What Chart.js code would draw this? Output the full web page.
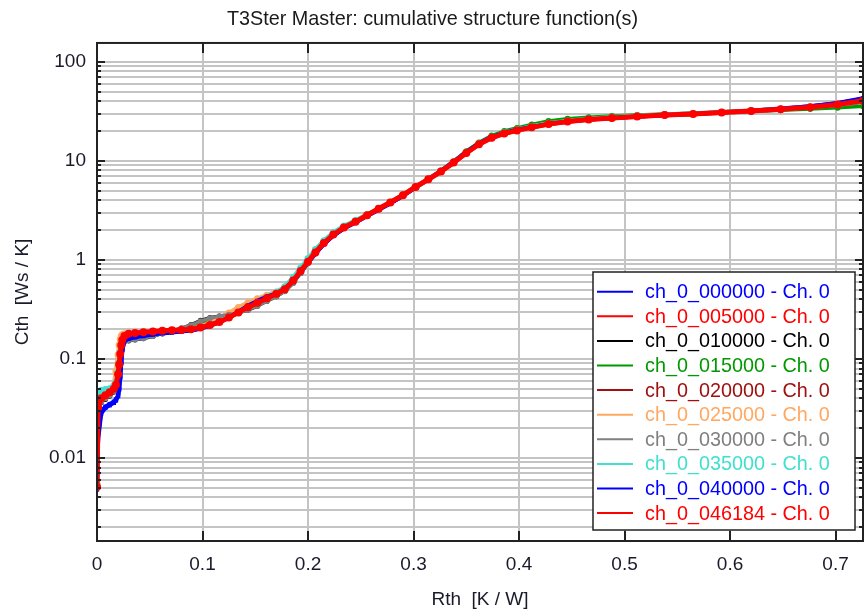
<!DOCTYPE html>
<html>
<head>
<meta charset="utf-8">
<script src="https://cdn.jsdelivr.net/npm/chart.js@4.4.1/dist/chart.umd.min.js"></script>
<style>
  html, body { margin: 0; padding: 0; background: #ffffff; }
  #wrap { width: 867px; height: 609px; }
</style>
</head>
<body>
<div id="wrap"><canvas id="c" width="867" height="609"></canvas></div>
<script>
// ---------- DATA ----------
const chartTitle = 'T3Ster Master: cumulative structure function(s)';
const xTitle = 'Rth  [K / W]';
const yTitle = 'Cth  [Ws / K]';

const xTickValues = [0, 0.1, 0.2, 0.3, 0.4, 0.5, 0.6, 0.7];
const xTickLabels = ['0', '0.1', '0.2', '0.3', '0.4', '0.5', '0.6', '0.7'];
const yMajorValues = [0.01, 0.1, 1, 10, 100];
const yTickLabels = ['0.01', '0.1', '1', '10', '100'];
const yMinorMultiples = [2, 3, 4, 5, 6, 7, 8, 9];

const seriesLabels = [
  'ch_0_000000 - Ch. 0', 'ch_0_005000 - Ch. 0', 'ch_0_010000 - Ch. 0',
  'ch_0_015000 - Ch. 0', 'ch_0_020000 - Ch. 0', 'ch_0_025000 - Ch. 0',
  'ch_0_030000 - Ch. 0', 'ch_0_035000 - Ch. 0', 'ch_0_040000 - Ch. 0',
  'ch_0_046184 - Ch. 0'
];

// Rth [K/W]
const rth = [
  0.000, 0.001, 0.004, 0.008, 0.012, 0.016, 0.018, 0.020, 0.021, 0.022,
  0.023, 0.024, 0.026, 0.030, 0.036, 0.044, 0.053, 0.062, 0.071, 0.080,
  0.089, 0.098, 0.107, 0.116, 0.125, 0.134, 0.143, 0.152, 0.161, 0.170,
  0.178, 0.186, 0.193, 0.200, 0.207, 0.215, 0.224, 0.234, 0.245, 0.256,
  0.267, 0.278, 0.290, 0.302, 0.314, 0.326, 0.338, 0.350, 0.362, 0.374,
  0.386, 0.398, 0.412, 0.428, 0.446, 0.466, 0.488, 0.512, 0.538, 0.565,
  0.592, 0.620, 0.648, 0.676, 0.702, 0.726
];

// Cth [Ws/K], one array per measurement
const cth000000 = [
  0.0048, 0.015, 0.028, 0.032, 0.034, 0.036, 0.038, 0.042, 0.049, 0.064,
  0.090, 0.122, 0.150, 0.158, 0.163, 0.168, 0.175, 0.181, 0.185, 0.189,
  0.194, 0.202, 0.216, 0.234, 0.260, 0.297, 0.340, 0.380, 0.420, 0.458,
  0.508, 0.605, 0.755, 0.935, 1.15,
  1.44, 1.75, 2.07, 2.39, 2.77, 3.21, 3.72, 4.42, 5.38, 6.48,
  7.88, 9.80, 12.3, 15.0, 17.5, 19.3, 20.7, 22.1, 23.7, 25.1,
  26.2, 27.1, 28.1, 29.0, 29.8, 30.9, 32.1, 33.7, 35.6, 38.3, 42.8
];
const cth005000 = [
  0.0052, 0.033, 0.040, 0.043, 0.046, 0.050, 0.056, 0.071, 0.089, 0.113,
  0.138, 0.156, 0.169, 0.177, 0.182, 0.185, 0.188, 0.191, 0.194, 0.196,
  0.199, 0.207, 0.220, 0.237, 0.263, 0.296, 0.334, 0.369, 0.410, 0.455,
  0.505, 0.618, 0.768, 0.958, 1.19,
  1.48, 1.80, 2.12, 2.42, 2.82, 3.28, 3.80, 4.50, 5.45, 6.50,
  7.80, 9.60, 12.0, 14.7, 17.1, 18.9, 20.3, 21.8, 23.5, 24.9,
  26.1, 27.1, 28.1, 29.0, 29.8, 30.7, 31.8, 33.2, 34.8, 37.0, 40.3
];
const cth010000 = [
  0.0060, 0.028, 0.036, 0.039, 0.042, 0.046, 0.052, 0.066, 0.085, 0.110,
  0.132, 0.145, 0.150, 0.152, 0.155, 0.160, 0.168, 0.180, 0.192, 0.205,
  0.222, 0.245, 0.262, 0.272, 0.282, 0.292, 0.310, 0.340, 0.380, 0.425,
  0.480, 0.580, 0.730, 0.920, 1.15,
  1.46, 1.80, 2.15, 2.48, 2.85, 3.30, 3.82, 4.55, 5.50, 6.55,
  7.85, 9.70, 12.1, 14.8, 17.5, 19.5, 20.9, 22.5, 24.3, 25.6,
  26.9, 28.0, 28.9, 29.6, 30.3, 31.0, 31.9, 33.0, 34.4, 36.3, 39.0
];
const cth015000 = [
  0.0055, 0.030, 0.038, 0.041, 0.044, 0.048, 0.054, 0.068, 0.087, 0.112,
  0.135, 0.150, 0.156, 0.158, 0.161, 0.165, 0.172, 0.181, 0.190, 0.199,
  0.210, 0.228, 0.245, 0.258, 0.272, 0.292, 0.318, 0.350, 0.390, 0.430,
  0.485, 0.590, 0.750, 0.950, 1.19,
  1.50, 1.84, 2.18, 2.50, 2.88, 3.32, 3.85, 4.55, 5.50, 6.60,
  8.00, 9.90, 12.5, 15.3, 18.0, 20.0, 21.5, 23.3, 25.3, 26.6,
  27.6, 28.4, 29.1, 29.7, 30.3, 30.9, 31.6, 32.4, 33.3, 34.4, 35.6
];
const cth020000 = [
  0.0050, 0.031, 0.039, 0.042, 0.045, 0.049, 0.054, 0.069, 0.086, 0.110,
  0.134, 0.152, 0.166, 0.175, 0.180, 0.184, 0.188, 0.192, 0.195, 0.198,
  0.202, 0.210, 0.222, 0.240, 0.265, 0.298, 0.335, 0.372, 0.412, 0.455,
  0.505, 0.615, 0.765, 0.955, 1.18,
  1.47, 1.79, 2.11, 2.42, 2.80, 3.26, 3.78, 4.48, 5.42, 6.48,
  7.80, 9.60, 12.0, 14.8, 17.2, 19.0, 20.4, 22.0, 23.7, 25.1,
  26.3, 27.3, 28.3, 29.1, 29.9, 30.7, 31.7, 33.0, 34.6, 36.6, 39.5
];
const cth025000 = [
  0.0060, 0.034, 0.041, 0.044, 0.047, 0.054, 0.075, 0.110, 0.138, 0.158,
  0.170, 0.176, 0.180, 0.182, 0.184, 0.186, 0.189, 0.192, 0.195, 0.198,
  0.202, 0.212, 0.230, 0.255, 0.290, 0.330, 0.370, 0.405, 0.440, 0.475,
  0.515, 0.625, 0.780, 0.975, 1.21,
  1.50, 1.82, 2.14, 2.45, 2.83, 3.30, 3.82, 4.52, 5.45, 6.52,
  7.85, 9.70, 12.1, 14.8, 17.2, 19.0, 20.4, 22.0, 23.6, 25.0,
  26.2, 27.2, 28.2, 29.0, 29.8, 30.8, 31.9, 33.3, 34.9, 37.0, 40.0
];
const cth030000 = [
  0.0058, 0.029, 0.037, 0.040, 0.043, 0.047, 0.053, 0.067, 0.086, 0.111,
  0.133, 0.147, 0.152, 0.154, 0.157, 0.162, 0.170, 0.181, 0.192, 0.204,
  0.219, 0.240, 0.258, 0.270, 0.280, 0.292, 0.312, 0.343, 0.384, 0.428,
  0.482, 0.585, 0.735, 0.925, 1.16,
  1.46, 1.79, 2.13, 2.46, 2.84, 3.29, 3.82, 4.55, 5.52, 6.58,
  7.90, 9.75, 12.2, 14.9, 17.4, 19.3, 20.7, 22.3, 24.0, 25.3,
  26.5, 27.6, 28.6, 29.5, 30.3, 31.1, 32.0, 33.2, 34.6, 36.5, 39.2
];
const cth035000 = [
  0.0055, 0.045, 0.048, 0.049, 0.050, 0.053, 0.058, 0.074, 0.093, 0.118,
  0.142, 0.158, 0.170, 0.177, 0.181, 0.184, 0.187, 0.190, 0.193, 0.196,
  0.200, 0.208, 0.221, 0.238, 0.264, 0.298, 0.338, 0.377, 0.422, 0.472,
  0.535, 0.665, 0.830, 1.03, 1.27,
  1.56, 1.88, 2.20, 2.50, 2.86, 3.30, 3.82, 4.52, 5.45, 6.52,
  7.85, 9.70, 12.1, 14.8, 17.3, 19.2, 20.6, 22.2, 23.9, 25.3,
  26.5, 27.5, 28.4, 29.2, 30.0, 30.9, 32.0, 33.4, 35.0, 37.2, 40.2
];
const cth040000 = [
  0.0050, 0.017, 0.030, 0.033, 0.035, 0.037, 0.039, 0.043, 0.050, 0.066,
  0.092, 0.125, 0.152, 0.160, 0.165, 0.170, 0.176, 0.182, 0.186, 0.190,
  0.195, 0.203, 0.217, 0.236, 0.262, 0.300, 0.345, 0.385, 0.425, 0.460,
  0.510, 0.610, 0.760, 0.940, 1.16,
  1.45, 1.76, 2.08, 2.40, 2.78, 3.22, 3.72, 4.42, 5.40, 6.50,
  7.90, 9.80, 12.3, 15.0, 17.4, 19.2, 20.6, 22.0, 23.6, 25.0,
  26.1, 27.0, 28.0, 28.9, 29.7, 30.8, 32.0, 33.6, 35.5, 38.2, 42.5
];
const cth046184 = [
  0.0051, 0.032, 0.040, 0.043, 0.046, 0.050, 0.055, 0.070, 0.088, 0.112,
  0.137, 0.155, 0.170, 0.179, 0.183, 0.186, 0.189, 0.192, 0.195, 0.196,
  0.199, 0.207, 0.220, 0.236, 0.262, 0.295, 0.333, 0.368, 0.410, 0.455,
  0.505, 0.620, 0.770, 0.960, 1.19,
  1.48, 1.80, 2.12, 2.42, 2.82, 3.28, 3.80, 4.50, 5.45, 6.50,
  7.80, 9.60, 12.0, 14.7, 17.1, 18.9, 20.3, 21.8, 23.5, 24.9,
  26.1, 27.1, 28.1, 29.0, 29.8, 30.7, 31.8, 33.2, 34.8, 37.0, 40.5
];
const seriesValues = [cth000000, cth005000, cth010000, cth015000, cth020000,
                      cth025000, cth030000, cth035000, cth040000, cth046184];

// ---------- STYLE ----------
const seriesColors = ['#0000ff', '#ff0000', '#000000', '#009a00', '#a01010',
                      '#ffa860', '#808080', '#40e0d0', '#0000ff', '#ff0000'];
const seriesPointStyles = ['rect', 'circle', 'circle', 'circle', 'circle',
                           'circle', 'circle', 'circle', 'rect', 'circle'];
const seriesPointRadii = [3, 3.5, 2.5, 3, 3, 3.5, 3, 3.5, 3, 4];
const seriesLineWidths = [4, 4.5, 3, 3.5, 3.5, 4.5, 3.5, 4.5, 4, 5];
const FONT = '"Liberation Sans", Arial, sans-serif';

const datasets = seriesValues.map((vals, i) => ({
  label: seriesLabels[i],
  data: rth.map((x, k) => ({ x: x, y: vals[k] })),
  borderColor: seriesColors[i],
  backgroundColor: seriesColors[i],
  borderWidth: seriesLineWidths[i],
  borderJoinStyle: 'round',
  borderCapStyle: 'round',
  pointStyle: seriesPointStyles[i],
  pointRadius: seriesPointRadii[i],
  pointBorderWidth: 0,
  showLine: true,
  tension: 0,
  order: 10 - i
}));

const frameAndTicks = {
  id: 'frameAndTicks',
  afterDraw(chart) {
    const { ctx, chartArea: a, scales } = chart;
    ctx.save();
    ctx.strokeStyle = '#222';
    ctx.lineWidth = 2;
    ctx.beginPath();
    scales.y.ticks.forEach(t => {
      const y = Math.round(scales.y.getPixelForValue(t.value));
      const len = yMajorValues.includes(t.value) ? 8 : 4;
      ctx.moveTo(a.left, y); ctx.lineTo(a.left + len, y);
      ctx.moveTo(a.right, y); ctx.lineTo(a.right - len, y);
    });
    scales.x.ticks.forEach(t => {
      const x = Math.round(scales.x.getPixelForValue(t.value));
      ctx.moveTo(x, a.bottom); ctx.lineTo(x, a.bottom - 10);
      ctx.moveTo(x, a.top); ctx.lineTo(x, a.top + 10);
    });
    ctx.stroke();
    ctx.strokeRect(a.left, a.top, a.right - a.left, a.bottom - a.top);
    ctx.restore();
  }
};

const boxLegend = {
  id: 'boxLegend',
  afterDraw(chart) {
    const { ctx } = chart;
    const bx = 593, by = 272, bw = 262, bh = 258;
    ctx.save();
    ctx.fillStyle = '#ffffff';
    ctx.fillRect(bx, by, bw, bh);
    ctx.strokeStyle = '#222';
    ctx.lineWidth = 1.5;
    ctx.strokeRect(bx, by, bw, bh);
    ctx.font = '19.8px ' + FONT;
    ctx.textBaseline = 'middle';
    ctx.textAlign = 'left';
    chart.data.datasets.forEach((ds, i) => {
      const cy = 291.7 + i * 24.6;
      ctx.strokeStyle = ds.borderColor;
      ctx.lineWidth = 2;
      ctx.beginPath();
      ctx.moveTo(597, cy); ctx.lineTo(633, cy);
      ctx.stroke();
      ctx.fillStyle = ds.borderColor;
      ctx.fillText(ds.label, 645, cy + 1);
    });
    ctx.restore();
  }
};

new Chart(document.getElementById('c'), {
  type: 'scatter',
  data: { datasets },
  plugins: [frameAndTicks, boxLegend],
  options: {
    responsive: false,
    animation: false,
    events: [],
    layout: { padding: { top: 0, right: 2, left: 0, bottom: 0 } },
    plugins: {
      legend: { display: false },
      tooltip: { enabled: false },
      title: {
        display: true,
        text: chartTitle,
        color: '#1a1a1a',
        font: { family: FONT, size: 19.8, weight: 'normal', lineHeight: 1.2 },
        padding: { top: 8, bottom: 11.2 }
      }
    },
    scales: {
      x: {
        type: 'linear',
        min: 0,
        max: 0.726,
        afterBuildTicks(scale) { scale.ticks = xTickValues.map(v => ({ value: v })); },
        afterFit(scale) { scale.height = 68; },
        ticks: {
          autoSkip: false,
          maxRotation: 0,
          padding: 12.6,
          color: '#1a1a2a',
          font: { family: FONT, size: 19 },
          callback(value) {
            const i = xTickValues.findIndex(v => Math.abs(v - value) < 1e-9);
            return i >= 0 ? xTickLabels[i] : '';
          }
        },
        grid: { color: '#c4c4c4', lineWidth: 2, drawTicks: false },
        border: { display: false },
        title: {
          display: true,
          text: xTitle,
          color: '#1a1a2a',
          font: { family: FONT, size: 19, lineHeight: 1 },
          padding: { top: 0, bottom: 0 }
        }
      },
      y: {
        type: 'logarithmic',
        min: 0.00145,
        max: 155,
        afterBuildTicks(scale) {
          const t = [];
          yMajorValues.forEach(m => {
            t.push({ value: m });
            if (m < 100) yMinorMultiples.forEach(k => t.push({ value: +(m * k).toPrecision(6) }));
          });
          yMinorMultiples.forEach(k => t.push({ value: +(0.001 * k).toPrecision(6) }));
          scale.ticks = t.filter(o => o.value >= scale.min && o.value <= scale.max)
                         .sort((p, q) => p.value - q.value);
        },
        afterFit(scale) { scale.width = 97; },
        ticks: {
          autoSkip: false,
          padding: 11,
          color: '#1a1a2a',
          font: { family: FONT, size: 19 },
          callback(value) {
            const i = yMajorValues.findIndex(v => Math.abs(v - value) / v < 1e-6);
            return i >= 0 ? yTickLabels[i] : '';
          }
        },
        grid: { color: '#c4c4c4', lineWidth: 2, drawTicks: false },
        border: { display: false },
        title: {
          display: true,
          text: yTitle,
          color: '#1a1a2a',
          font: { family: FONT, size: 19, lineHeight: 1 },
          padding: { top: 13, bottom: 0 }
        }
      }
    }
  }
});
</script>
</body>
</html>
